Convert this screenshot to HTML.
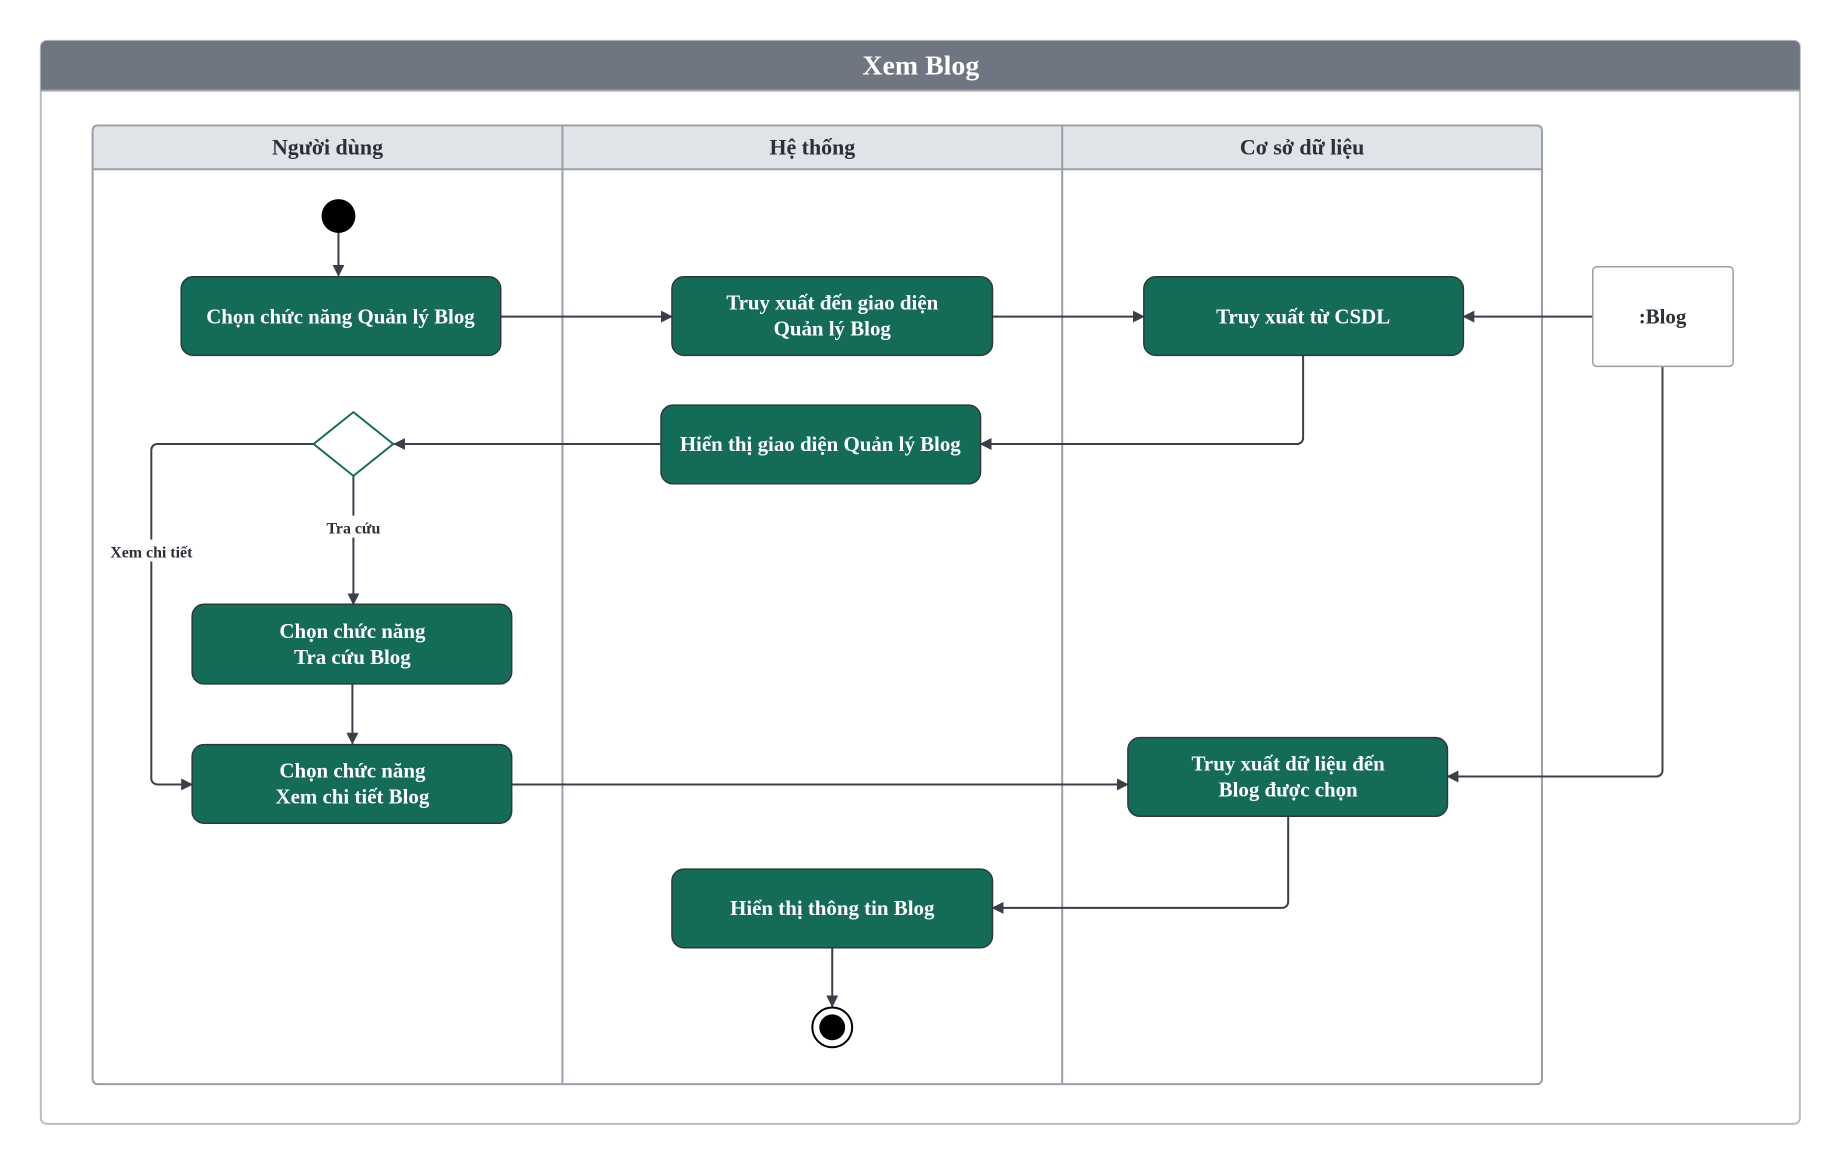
<!DOCTYPE html>
<html><head><meta charset="utf-8"><style>
html,body{margin:0;padding:0;background:#fff}
svg text{font-family:"Liberation Serif",serif}
</style></head><body>
<svg width="1840" height="1164" viewBox="0 0 1840 1164" xmlns="http://www.w3.org/2000/svg">
<defs>
<marker id="a" markerWidth="12" markerHeight="12" refX="11" refY="6" orient="auto" markerUnits="userSpaceOnUse">
<path d="M0,0 L12,6 L0,12 z" fill="#3a3f4a"/></marker>
</defs>
<g transform="scale(0.9955)">
<rect x="41" y="41" width="1767" height="1088" rx="6" fill="#fff" stroke="#b9bcc2" stroke-width="2"/>
<path d="M41,91 V47 a6,6 0 0 1 6,-6 H1802 a6,6 0 0 1 6,6 V91 z" fill="#6f7682"/>
<line x1="41" y1="91" x2="1808" y2="91" stroke="#a5a9b0" stroke-width="2"/>
<text x="925" y="75" text-anchor="middle" font-size="28" font-weight="bold" fill="#fff">Xem Blog</text>
<rect x="93" y="126" width="1456" height="44" fill="#e0e3e8"/>
<rect x="93" y="126" width="1456" height="963" rx="5" fill="none" stroke="#9a9ea6" stroke-width="2"/>
<line x1="93" y1="170" x2="1549" y2="170" stroke="#9a9ea6" stroke-width="2"/>
<line x1="565" y1="126" x2="565" y2="1089" stroke="#9a9ea6" stroke-width="2"/>
<line x1="1067" y1="126" x2="1067" y2="1089" stroke="#9a9ea6" stroke-width="2"/>
<g font-size="22" font-weight="bold" fill="#2b2f36" text-anchor="middle">
<text x="329" y="155">Người dùng</text>
<text x="816" y="155">Hệ thống</text>
<text x="1308" y="155">Cơ sở dữ liệu</text>
</g>
<g stroke="#3a3f4a" stroke-width="2" fill="none">
<line x1="340" y1="233" x2="340" y2="277" marker-end="url(#a)"/>
<line x1="503" y1="318" x2="675" y2="318" marker-end="url(#a)"/>
<line x1="997" y1="318" x2="1149" y2="318" marker-end="url(#a)"/>
<line x1="1600" y1="318" x2="1470" y2="318" marker-end="url(#a)"/>
<path d="M1309,357 V440 a6,6 0 0 1 -6,6 H985" marker-end="url(#a)"/>
<line x1="664" y1="446" x2="396" y2="446" marker-end="url(#a)"/>
<path d="M316,446 H158 a6,6 0 0 0 -6,6 V782 a6,6 0 0 0 6,6 H193" marker-end="url(#a)"/>
<line x1="355" y1="478" x2="355" y2="607" marker-end="url(#a)"/>
<line x1="354" y1="687" x2="354" y2="747" marker-end="url(#a)"/>
<line x1="514" y1="788" x2="1133" y2="788" marker-end="url(#a)"/>
<path d="M1670,368 V774 a6,6 0 0 1 -6,6 H1454" marker-end="url(#a)"/>
<path d="M1294,820 V906 a6,6 0 0 1 -6,6 H997" marker-end="url(#a)"/>
<line x1="836" y1="952" x2="836" y2="1011" marker-end="url(#a)"/>
</g>
<rect x="318" y="518" width="74" height="22" fill="#fff"/>
<text x="355" y="536" text-anchor="middle" font-size="16" font-weight="bold" fill="#2b2f36">Tra cứu</text>
<rect x="102" y="542" width="100" height="22" fill="#fff"/>
<text x="152" y="560" text-anchor="middle" font-size="16" font-weight="bold" fill="#2b2f36">Xem chi tiết</text>
<circle cx="340" cy="217" r="17" fill="#000"/>
<circle cx="836" cy="1032" r="20" fill="#fff" stroke="#000" stroke-width="2"/>
<circle cx="836" cy="1032" r="13" fill="#000"/>
<path d="M355,414 L395,446 L355,478 L315,446 z" fill="#fff" stroke="#136b58" stroke-width="2" stroke-linejoin="round"/>
<g fill="#136b58" stroke="#2d3a38" stroke-width="1.5">
<rect x="182" y="278" width="321" height="79" rx="12"/>
<rect x="675" y="278" width="322" height="79" rx="12"/>
<rect x="1149" y="278" width="321" height="79" rx="12"/>
<rect x="664" y="407" width="321" height="79" rx="12"/>
<rect x="193" y="607" width="321" height="80" rx="12"/>
<rect x="193" y="748" width="321" height="79" rx="12"/>
<rect x="1133" y="741" width="321" height="79" rx="12"/>
<rect x="675" y="873" width="322" height="79" rx="12"/>
</g>
<rect x="1600" y="268" width="141" height="100" rx="4" fill="#fff" stroke="#9a9ea6" stroke-width="1.5"/>
<text x="1670" y="325" text-anchor="middle" font-size="21" font-weight="bold" fill="#2b2f36">:Blog</text>
<g font-size="21" font-weight="bold" fill="#fff" text-anchor="middle">
<text x="342" y="325">Chọn chức năng Quản lý Blog</text>
<text x="836" y="311">Truy xuất đến giao diện</text>
<text x="836" y="337">Quản lý Blog</text>
<text x="1309" y="325">Truy xuất từ CSDL</text>
<text x="824" y="453">Hiển thị giao diện Quản lý Blog</text>
<text x="354" y="641">Chọn chức năng</text>
<text x="354" y="667">Tra cứu Blog</text>
<text x="354" y="781">Chọn chức năng</text>
<text x="354" y="807">Xem chi tiết Blog</text>
<text x="1294" y="774">Truy xuất dữ liệu đến</text>
<text x="1294" y="800">Blog được chọn</text>
<text x="836" y="919">Hiển thị thông tin Blog</text>
</g>
</g>
</svg>
</body></html>
